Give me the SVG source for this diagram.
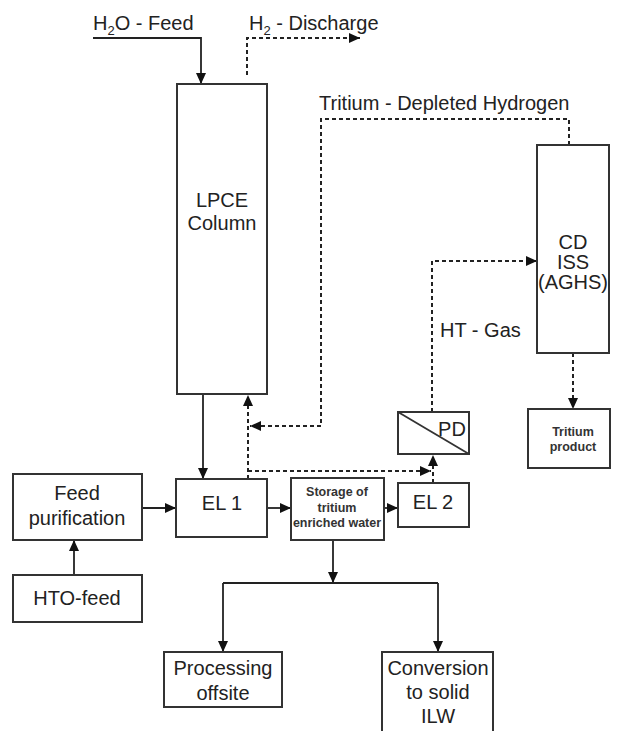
<svg xmlns="http://www.w3.org/2000/svg" width="619" height="731" viewBox="0 0 619 731">
<style>
.box{fill:#fff;stroke:#333;stroke-width:2}
.t{font-family:"Liberation Sans",Arial,sans-serif;font-size:20px;fill:#222;text-anchor:middle}
.tl{font-family:"Liberation Sans",Arial,sans-serif;font-size:20px;fill:#222}
.b{font-family:"Liberation Sans",Arial,sans-serif;font-size:12.5px;font-weight:bold;fill:#333;text-anchor:middle}
.s{fill:none;stroke:#222;stroke-width:1.8}
.d{fill:none;stroke:#222;stroke-width:2;stroke-dasharray:4 3}
</style>
<defs>
<marker id="ah" markerUnits="userSpaceOnUse" markerWidth="12" markerHeight="10" refX="11" refY="5" orient="auto">
<path d="M0,0 L11,5 L0,10 Z" fill="#111"/>
</marker>
</defs>
<g id="connectors">
<polyline class="s" points="93,38 201,38 201,84" marker-end="url(#ah)"/>
<polyline class="d" points="247,75 247,38 360,38" marker-end="url(#ah)"/>
<polyline class="d" points="569,145 569,119 321,119 321,426 250,426" marker-end="url(#ah)"/>
<polyline class="d" points="248,479 248,395" marker-end="url(#ah)"/>
<polyline class="d" points="248,471 431,471" marker-end="url(#ah)"/>
<polyline class="d" points="433,483 433,455" marker-end="url(#ah)"/>
<polyline class="d" points="432,412 432,261 537,261" marker-end="url(#ah)"/>
<polyline class="d" points="573,353 573,409" marker-end="url(#ah)"/>
<polyline class="s" points="203,394 203,479" marker-end="url(#ah)"/>
<polyline class="s" points="74,575 74,540" marker-end="url(#ah)"/>
<polyline class="s" points="142,508 176,508" marker-end="url(#ah)"/>
<polyline class="s" points="267,508 291,508" marker-end="url(#ah)"/>
<polyline class="s" points="384,508 398,508" marker-end="url(#ah)"/>
<polyline class="s" points="333,540 333,583" marker-end="url(#ah)"/>
<polyline class="s" points="223,583 438,583"/>
<polyline class="s" points="223,583 223,652" marker-end="url(#ah)"/>
<polyline class="s" points="438,583 438,652" marker-end="url(#ah)"/>
</g>
<g id="labels">
<text class="tl" x="93" y="30">H<tspan font-size="13" dy="5">2</tspan><tspan dy="-5">O - Feed</tspan></text>
<text class="tl" x="249" y="30">H<tspan font-size="13" dy="5">2</tspan><tspan dy="-5"> - Discharge</tspan></text>
<text class="tl" x="319" y="110">Tritium - Depleted Hydrogen</text>
<text class="tl" x="440" y="337">HT - Gas</text>
</g>
<g id="lpce">
<rect class="box" x="177" y="84" width="90" height="310"/>
<text class="t" x="222" y="207">LPCE</text>
<text class="t" x="222" y="230">Column</text>
</g>
<g id="cdiss">
<rect class="box" x="537" y="145" width="72" height="208"/>
<text class="t" x="573" y="249">CD</text>
<text class="t" x="573" y="269">ISS</text>
<text class="t" x="573" y="289">(AGHS)</text>
</g>
<g id="pd">
<rect class="box" x="398" y="412" width="71" height="42"/>
<line x1="398" y1="412" x2="469" y2="454" stroke="#333" stroke-width="1.8"/>
<text class="t" x="452" y="436">PD</text>
</g>
<g id="tritium-product">
<rect class="box" x="528" y="409" width="82" height="59"/>
<text class="b" x="573" y="436">Tritium</text>
<text class="b" x="573" y="451">product</text>
</g>
<g id="feed-purification">
<rect class="box" x="13" y="474" width="129" height="66"/>
<text class="t" x="77" y="500">Feed</text>
<text class="t" x="77" y="525">purification</text>
</g>
<g id="hto-feed">
<rect class="box" x="13" y="575" width="129" height="47"/>
<text class="t" x="77" y="605">HTO-feed</text>
</g>
<g id="el1">
<rect class="box" x="176" y="479" width="91" height="58"/>
<text class="t" x="222" y="510">EL 1</text>
</g>
<g id="storage">
<rect class="box" x="291" y="478" width="93" height="62"/>
<text class="b" x="337" y="496">Storage of</text>
<text class="b" x="337" y="512">tritium</text>
<text class="b" x="337" y="527">enriched water</text>
</g>
<g id="el2">
<rect class="box" x="398" y="483" width="71" height="44"/>
<text class="t" x="433" y="509">EL 2</text>
</g>
<g id="processing-offsite">
<rect class="box" x="164" y="652" width="118" height="55"/>
<text class="t" x="223" y="675">Processing</text>
<text class="t" x="223" y="700">offsite</text>
</g>
<g id="conversion">
<rect class="box" x="382" y="652" width="111" height="100"/>
<text class="t" x="438" y="675">Conversion</text>
<text class="t" x="438" y="699">to solid</text>
<text class="t" x="438" y="723">ILW</text>
</g>
</svg>
